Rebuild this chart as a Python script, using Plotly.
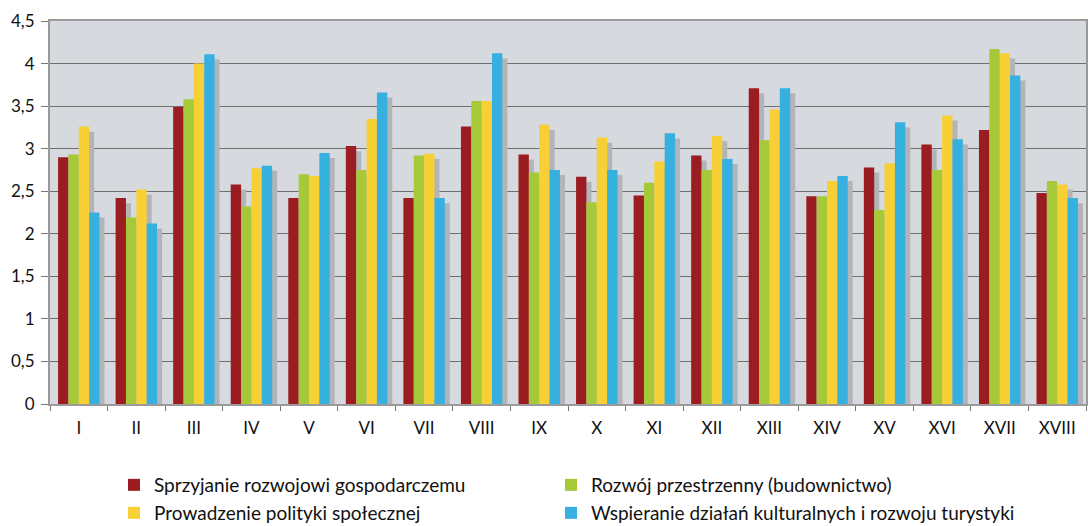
import plotly.graph_objects as go

# Kategorie (oś X)
categories = ["I", "II", "III", "IV", "V", "VI", "VII", "VIII", "IX", "X",
              "XI", "XII", "XIII", "XIV", "XV", "XVI", "XVII", "XVIII"]

series_names = [
    "Sprzyjanie rozwojowi gospodarczemu",
    "Rozwój przestrzenny (budownictwo)",
    "Prowadzenie polityki społecznej",
    "Wspieranie działań kulturalnych i rozwoju turystyki",
]

gospodarczy = [2.90, 2.42, 3.49, 2.58, 2.42, 3.03, 2.42, 3.26, 2.93, 2.67,
               2.45, 2.92, 3.71, 2.44, 2.78, 3.05, 3.22, 2.48]
przestrzenny = [2.93, 2.19, 3.58, 2.32, 2.70, 2.75, 2.92, 3.56, 2.72, 2.37,
                2.60, 2.75, 3.10, 2.44, 2.28, 2.75, 4.17, 2.62]
spoleczny = [3.26, 2.52, 4.00, 2.77, 2.68, 3.35, 2.94, 3.56, 3.28, 3.13,
             2.85, 3.15, 3.46, 2.62, 2.83, 3.39, 4.12, 2.58]
kulturalny = [2.25, 2.12, 4.11, 2.80, 2.95, 3.66, 2.42, 4.12, 2.75, 2.75,
              3.18, 2.88, 3.71, 2.68, 3.31, 3.11, 3.86, 2.42]

colors = ["#9b1d21", "#a6c93a", "#f6d035", "#36b0e1"]
all_series = [gospodarczy, przestrzenny, spoleczny, kulturalny]

bar_w = 0.18
start = -2 * bar_w

W, H = 1088, 526

fig = go.Figure()

# cienie za słupkami
for i, vals in enumerate(all_series):
    fig.add_trace(go.Bar(
        x=categories, y=[v - 0.06 for v in vals],
        width=bar_w, offset=start + i * bar_w + 0.087,
        marker=dict(color="#b3b4b7", line=dict(width=0)),
        showlegend=False, hoverinfo="skip",
    ))

legend_ids = ["legend", "legend2", "legend3", "legend4"]
for i, vals in enumerate(all_series):
    fig.add_trace(go.Bar(
        x=categories, y=vals, name=series_names[i],
        width=bar_w, offset=start + i * bar_w,
        marker=dict(color=colors[i], line=dict(width=0)),
        legend=legend_ids[i],
    ))

# jedna legenda na pozycję: (x lewej krawędzi, y środka wiersza) w px
legend_pos = [(114, 485), (551, 485), (114, 513), (551, 513)]


def make_legend(px, py):
    return dict(
        orientation="h", xref="container", yref="container",
        x=px / W, y=1 - py / H, xanchor="left", yanchor="middle",
        itemwidth=30,
        font=dict(family="Lato, sans-serif", size=19, color="#111111"),
        bgcolor="rgba(0,0,0,0)",
    )


fig.update_layout(
    barmode="overlay",
    width=W, height=H,
    margin=dict(l=50, r=2, t=21, b=122),
    paper_bgcolor="white",
    plot_bgcolor="#d6d9dd",
    separators=", ",
    font=dict(family="Lato, sans-serif", size=16, color="#111111"),
    xaxis=dict(
        type="category", tickson="boundaries", ticks="outside", ticklen=5,
        tickcolor="#777777", showgrid=False, automargin=False,
        ticklabelstandoff=8,
        showline=True, linecolor="#9a9a9a", linewidth=2, mirror=True,
        tickfont=dict(size=17),
    ),
    yaxis=dict(
        range=[0, 4.5], dtick=0.5, ticks="outside", ticklen=7,
        tickcolor="#777777", showgrid=True, gridcolor="#6f6f6f", gridwidth=1.2,
        showline=True, linecolor="#9a9a9a", linewidth=2, mirror=True,
        ticklabelstandoff=3,
        zeroline=False, automargin=False, tickfont=dict(size=17),
    ),
)
for lid, (px, py) in zip(legend_ids, legend_pos):
    fig.update_layout({lid: make_legend(px, py)})

# bez domyślnego marginesu strony
fig.write_html("out.html", config={"displayModeBar": False},
               post_script="document.body.style.margin='0';")
